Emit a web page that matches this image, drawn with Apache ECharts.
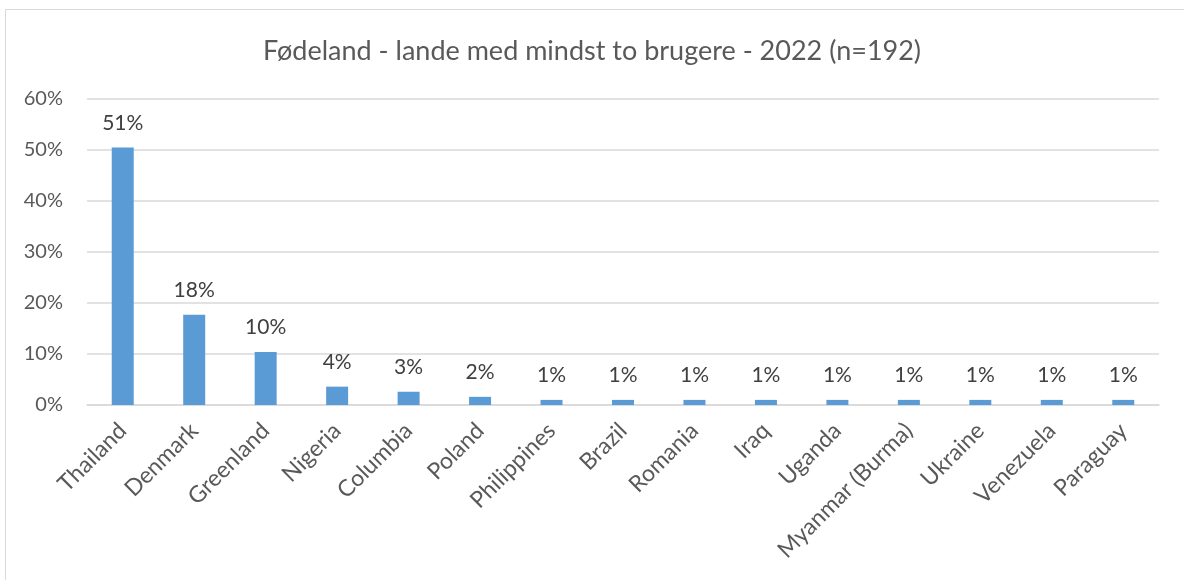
<!DOCTYPE html>
<html>
<head>
<meta charset="utf-8">
<script src="https://cdn.jsdelivr.net/npm/echarts@6/dist/echarts.min.js"></script>
<style>
html,body{margin:0;padding:0;background:#fff;}
#chart{width:1184px;height:580px;}
</style>
</head>
<body>
<div id="chart"></div>
<script>
const titleText = 'Fødeland - lande med mindst to brugere - 2022 (n=192)';
const categories = ['Thailand','Denmark','Greenland','Nigeria','Columbia','Poland','Philippines','Brazil','Romania','Iraq','Uganda','Myanmar (Burma)','Ukraine','Venezuela','Paraguay'];
const shares = [50.5, 17.7, 10.4, 3.6, 2.6, 1.6, 1.0, 1.0, 1.0, 1.0, 1.0, 1.0, 1.0, 1.0, 1.0];
const yTicks = [0, 10, 20, 30, 40, 50, 60];

const FONT = 'Lato, "Open Sans", sans-serif';
const chart = echarts.init(document.getElementById('chart'));
chart.setOption({
  animation: false,
  backgroundColor: '#fff',
  textStyle: { fontFamily: FONT },
  title: {
    text: titleText,
    left: 'center',
    top: 33,
    textStyle: { fontFamily: FONT, fontSize: 27, fontWeight: 'normal', color: '#595959' }
  },
  graphic: [{
    type: 'rect',
    shape: { x: 5.5, y: 9.5, width: 1200, height: 600 },
    style: { fill: 'none', stroke: '#D9D9D9', lineWidth: 1 },
    silent: true
  }],
  grid: { left: 87, right: 25, top: 99, bottom: 175, containLabel: false },
  xAxis: {
    type: 'category',
    data: categories,
    axisLine: { show: true, lineStyle: { color: '#D9D9D9', width: 1.5 } },
    axisTick: { show: false },
    axisLabel: { rotate: 45, interval: 0, margin: 22, fontSize: 23, color: '#595959', fontFamily: FONT }
  },
  yAxis: {
    type: 'value',
    min: yTicks[0],
    max: yTicks[yTicks.length - 1],
    interval: 10,
    axisLine: { show: false },
    axisTick: { show: false },
    splitLine: { lineStyle: { color: '#D9D9D9', width: 1.5 } },
    axisLabel: { formatter: v => v + '%', fontSize: 20, color: '#595959', margin: 24, fontFamily: FONT }
  },
  series: [{
    type: 'bar',
    data: shares,
    barWidth: 22,
    itemStyle: { color: '#5B9BD5' },
    label: {
      show: true,
      position: 'top',
      distance: 14,
      formatter: p => Math.round(p.value) + '%',
      fontSize: 21,
      color: '#404040',
      fontFamily: FONT
    }
  }]
});
</script>
</body>
</html>
